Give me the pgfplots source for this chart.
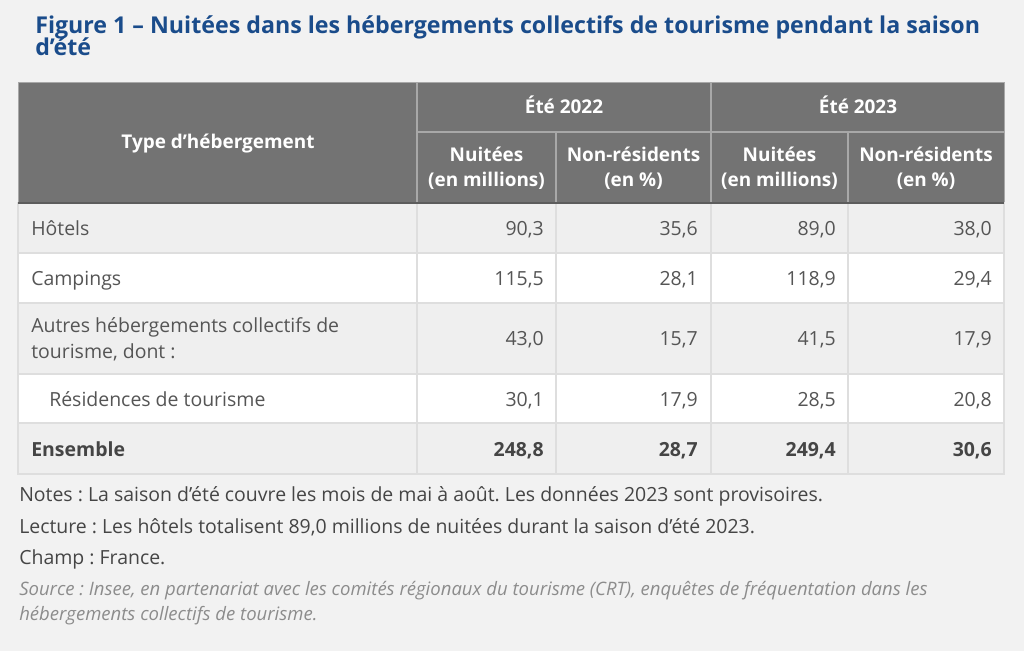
\documentclass[border=0pt]{standalone}
\usepackage{pgfplots}
\pgfplotsset{compat=1.18}
\usepackage{pgfplotstable}
\usepackage{fontspec}
\setmainfont{Open Sans}
\frenchspacing
\definecolor{bg}{HTML}{F2F2F2}
\definecolor{titleblue}{HTML}{1A4C8B}
\definecolor{headgray}{HTML}{737373}
\definecolor{headline}{HTML}{A8A8A8}
\definecolor{rowgray}{HTML}{EFEFEF}
\definecolor{gridc}{HTML}{DEDEDE}
\definecolor{bodytext}{HTML}{555555}
\definecolor{boldtext}{HTML}{454545}
\definecolor{srcgray}{HTML}{8C8C8C}

% baseline (px from top), Ete 2022 nuitees, Ete 2022 non-residents, Ete 2023 nuitees, Ete 2023 non-residents
\pgfplotstableread{
base a b c d
235   90.3  35.6  89.0  38.0
285   115.5 28.1  118.9 29.4
345.7 43.0  15.7  41.5  17.9
406   30.1  17.9  28.5  20.8
}\rows
\pgfplotstableread{
base a b c d
456 248.8 28.7 249.4 30.6
}\total

\newcommand{\bodyfont}{\fontsize{14.6pt}{17pt}\selectfont}
\newcommand{\headfont}{\fontsize{14.2pt}{17pt}\selectfont\bfseries}
\newcommand{\notefont}{\fontsize{14.6pt}{17pt}\selectfont}
\newcommand{\srcfont}{\fontsize{13.9pt}{17pt}\selectfont\itshape}

\begin{document}
\begin{tikzpicture}
\begin{axis}[
  scale only axis, width=768pt, height=488.25pt,
  xmin=0, xmax=1024, ymin=0, ymax=651, y dir=reverse,
  hide axis, clip=false,
  /pgf/number format/fixed, /pgf/number format/fixed zerofill,
  /pgf/number format/precision=1, /pgf/number format/use comma,
  /pgf/number format/assume math mode=true,
  nodes near coords, point meta=explicit,
  every node near coord/.append style={anchor=base east, inner sep=0pt, font=\bodyfont},
]
% background
\fill[bg] (axis cs:0,0) rectangle (axis cs:1024,651);
% header
\fill[headgray] (axis cs:18,82) rectangle (axis cs:1004,203);
\draw[headline, line width=0.8pt] (axis cs:417,82) -- (axis cs:417,203);
\draw[headline, line width=0.8pt] (axis cs:711,82) -- (axis cs:711,203);
\draw[headline, line width=0.8pt] (axis cs:556,132) -- (axis cs:556,203);
\draw[headline, line width=0.8pt] (axis cs:848,132) -- (axis cs:848,203);
\draw[headline, line width=0.8pt] (axis cs:417,132) -- (axis cs:1004,132);
\draw[headline, line width=0.6pt] (axis cs:18,82) rectangle (axis cs:1004,203);
% body rows
\fill[rowgray] (axis cs:18,203) rectangle (axis cs:1004,253);
\fill[white]   (axis cs:18,253) rectangle (axis cs:1004,303);
\fill[rowgray] (axis cs:18,303) rectangle (axis cs:1004,374);
\fill[white]   (axis cs:18,374) rectangle (axis cs:1004,423);
\fill[rowgray] (axis cs:18,423) rectangle (axis cs:1004,474);
\draw[gridc, line width=0.8pt] (axis cs:18,253) -- (axis cs:1004,253);
\draw[gridc, line width=0.8pt] (axis cs:18,303) -- (axis cs:1004,303);
\draw[gridc, line width=0.8pt] (axis cs:18,374) -- (axis cs:1004,374);
\draw[gridc, line width=0.8pt] (axis cs:18,423) -- (axis cs:1004,423);
\draw[gridc, line width=0.8pt] (axis cs:417,203) -- (axis cs:417,474);
\draw[gridc, line width=0.8pt] (axis cs:556,203) -- (axis cs:556,474);
\draw[gridc, line width=0.8pt] (axis cs:711,203) -- (axis cs:711,474);
\draw[gridc, line width=0.8pt] (axis cs:848,203) -- (axis cs:848,474);
\draw[gridc, line width=0.8pt] (axis cs:18,203) rectangle (axis cs:1004,474);
\draw[headgray!80!black, line width=1.2pt] (axis cs:18,203) -- (axis cs:1004,203);

% title
\node[anchor=base west, inner sep=0pt, text=titleblue, font=\fontsize{17.4pt}{18pt}\selectfont\bfseries]
  at (axis cs:35,33) {Figure 1 – Nuitées dans les hébergements collectifs de tourisme pendant la saison};
\node[anchor=base west, inner sep=0pt, text=titleblue, font=\fontsize{17.4pt}{18pt}\selectfont\bfseries]
  at (axis cs:35,55) {d’été};

% header text
\begin{scope}[every node/.style={inner sep=0pt, text=white, font=\headfont, anchor=base}]
\node at (axis cs:218,148.3) {Type d’hébergement};
\node at (axis cs:564,113.3) {Été 2022};
\node at (axis cs:858,113.3) {Été 2023};
\node at (axis cs:486.5,161.7) {Nuitées};
\node at (axis cs:486.5,186) {(en millions)};
\node at (axis cs:633.5,161.7) {Non-résidents};
\node at (axis cs:633.5,186) {(en \%)};
\node at (axis cs:779.5,161.7) {Nuitées};
\node at (axis cs:779.5,186) {(en millions)};
\node at (axis cs:926,161.7) {Non-résidents};
\node at (axis cs:926,186) {(en \%)};
\end{scope}

% row labels
\begin{scope}[every node/.style={inner sep=0pt, text=bodytext, font=\bodyfont, anchor=base west}]
\node at (axis cs:31,235) {Hôtels};
\node at (axis cs:31,285) {Campings};
\node at (axis cs:31,332.7) {Autres hébergements collectifs de};
\node at (axis cs:31,358) {tourisme, dont :};
\node at (axis cs:49,406) {Résidences de tourisme};
\node[text=boldtext, font=\bodyfont\bfseries] at (axis cs:31,456) {Ensemble};
\end{scope}

% values
\addplot[only marks, mark=none, nodes near coords style={text=bodytext}] table[x expr=544, y=base, meta=a] {\rows};
\addplot[only marks, mark=none, nodes near coords style={text=bodytext}] table[x expr=698, y=base, meta=b] {\rows};
\addplot[only marks, mark=none, nodes near coords style={text=bodytext}] table[x expr=836, y=base, meta=c] {\rows};
\addplot[only marks, mark=none, nodes near coords style={text=bodytext}] table[x expr=992, y=base, meta=d] {\rows};
\addplot[only marks, mark=none, nodes near coords style={text=boldtext, font=\bodyfont\bfseries}] table[x expr=544, y=base, meta=a] {\total};
\addplot[only marks, mark=none, nodes near coords style={text=boldtext, font=\bodyfont\bfseries}] table[x expr=698, y=base, meta=b] {\total};
\addplot[only marks, mark=none, nodes near coords style={text=boldtext, font=\bodyfont\bfseries}] table[x expr=836, y=base, meta=c] {\total};
\addplot[only marks, mark=none, nodes near coords style={text=boldtext, font=\bodyfont\bfseries}] table[x expr=992, y=base, meta=d] {\total};

% notes
\begin{scope}[every node/.style={inner sep=0pt, text=boldtext, font=\notefont, anchor=base west}]
\node at (axis cs:19,501.7) {Notes : La saison d’été couvre les mois de mai à août. Les données 2023 sont provisoires.};
\node at (axis cs:19,533.3) {Lecture : Les hôtels totalisent 89,0 millions de nuitées durant la saison d’été 2023.};
\node at (axis cs:19,564) {Champ : France.};
\node[text=srcgray, font=\srcfont] at (axis cs:19,595) {Source : Insee, en partenariat avec les comités régionaux du tourisme (CRT), enquêtes de fréquentation dans les};
\node[text=srcgray, font=\srcfont] at (axis cs:19,620) {hébergements collectifs de tourisme.};
\end{scope}
\end{axis}
\end{tikzpicture}
\end{document}
